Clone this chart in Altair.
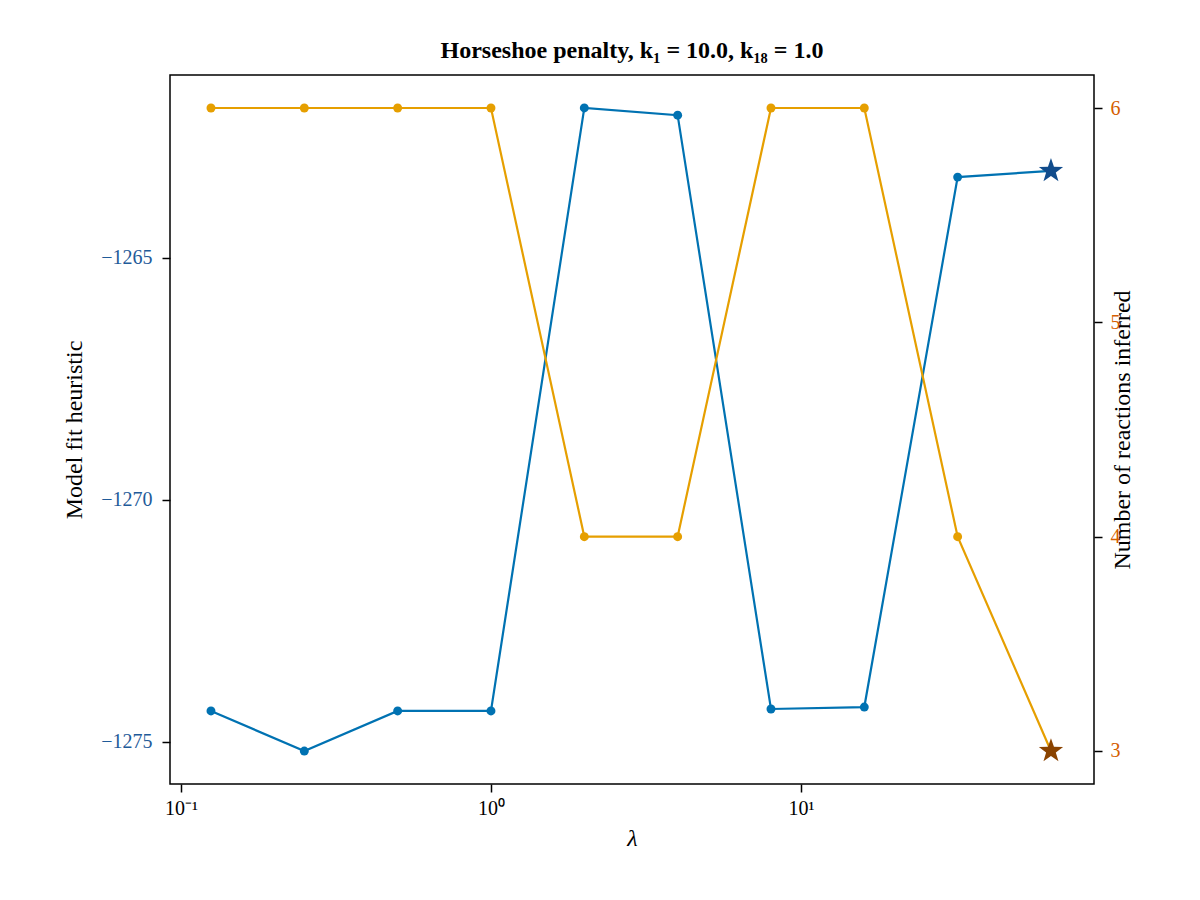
import altair as alt
import pandas as pd

lam = [0.125, 0.25, 0.5, 1, 2, 4, 8, 16, 32, 64]
fit = [-1274.36, -1275.19, -1274.36, -1274.36, -1261.90, -1262.05, -1274.32, -1274.28, -1263.33, -1263.20]
nreac = [6, 6, 6, 6, 4, 4, 6, 6, 4, 3]
best = [False] * 9 + [True]

df = pd.DataFrame({"lam": lam, "fit": fit, "n": nreac, "best": best})
FONT = "Liberation Serif"
BLUE, ORANGE = "#0072B2", "#E69F00"
STAR = "M0,-1L0.235,-0.324L0.951,-0.309L0.38,0.124L0.588,0.809L0,0.4L-0.588,0.809L-0.38,0.124L-0.951,-0.309L-0.235,-0.324Z"

xs = alt.X("lam:Q", scale=alt.Scale(type="log", domain=[0.0922, 88.1], nice=False),
           axis=alt.Axis(values=[0.1, 1, 10], title="λ", grid=False,
                         labelExpr="datum.value < 0.5 ? '10⁻¹' : (datum.value < 5 ? '10⁰' : '10¹')",
                         titleFontStyle="italic", titleFontSize=24, titleFontWeight="normal",
                         labelFontSize=20, titlePadding=8, labelPadding=6))
yl = alt.Y("fit:Q", scale=alt.Scale(domain=[-1275.87, -1261.22], nice=False, zero=False),
           axis=alt.Axis(values=[-1275, -1270, -1265], title="Model fit heuristic", grid=False,
                         labelExpr="replace(format(datum.value, 'd'), '-', '−')",
                         labelColor="#1f5b99", labelFontSize=20, titleFontSize=24,
                         titleFontWeight="normal", titlePadding=14, labelPadding=10))
yr = alt.Y("n:Q", scale=alt.Scale(domain=[2.846, 6.154], nice=False, zero=False),
           axis=alt.Axis(values=[3, 4, 5, 6], orient="right", title="Number of reactions inferred",
                         grid=False, labelColor="#D55E00", labelFontSize=20, titleFontSize=24,
                         titleFontWeight="normal", titlePadding=14, titleAngle=270, labelPadding=8))

base = alt.Chart(df)
left = alt.layer(
    base.mark_line(color=BLUE, strokeWidth=2.2).encode(x=xs, y=yl),
    base.mark_point(color=BLUE, filled=True, opacity=1, size=80).encode(x=xs, y=yl).transform_filter("!datum.best"),
    base.mark_point(shape=STAR, color="#114C8C", filled=True, opacity=1, size=650).encode(x=xs, y=yl).transform_filter("datum.best"),
)
right = alt.layer(
    base.mark_line(color=ORANGE, strokeWidth=2.2).encode(x=xs, y=yr),
    base.mark_point(color=ORANGE, filled=True, opacity=1, size=80).encode(x=xs, y=yr).transform_filter("!datum.best"),
    base.mark_point(shape=STAR, color="#8A4300", filled=True, opacity=1, size=650).encode(x=xs, y=yr).transform_filter("datum.best"),
)

chart = alt.layer(left, right).resolve_scale(y="independent").properties(
    width=924, height=709,
    title=alt.TitleParams("Horseshoe penalty, k₁ = 10.0, k₁₈ = 1.0", fontSize=24, font=FONT,
                          fontWeight="bold", offset=12),
    autosize=alt.AutoSizeParams(type="none"),
    padding={"left": 162, "top": 67, "right": 90, "bottom": 100},
).configure(font=FONT).configure_view(stroke="black", strokeWidth=1.5).configure_axis(
    labelFont=FONT, titleFont=FONT, domainColor="black", tickColor="black", labelColor="black",
    titleColor="black", tickSize=8, tickWidth=1.5, ticks=True, domain=False)

chart.save("out.html", embed_options={"renderer": "svg", "actions": False})
